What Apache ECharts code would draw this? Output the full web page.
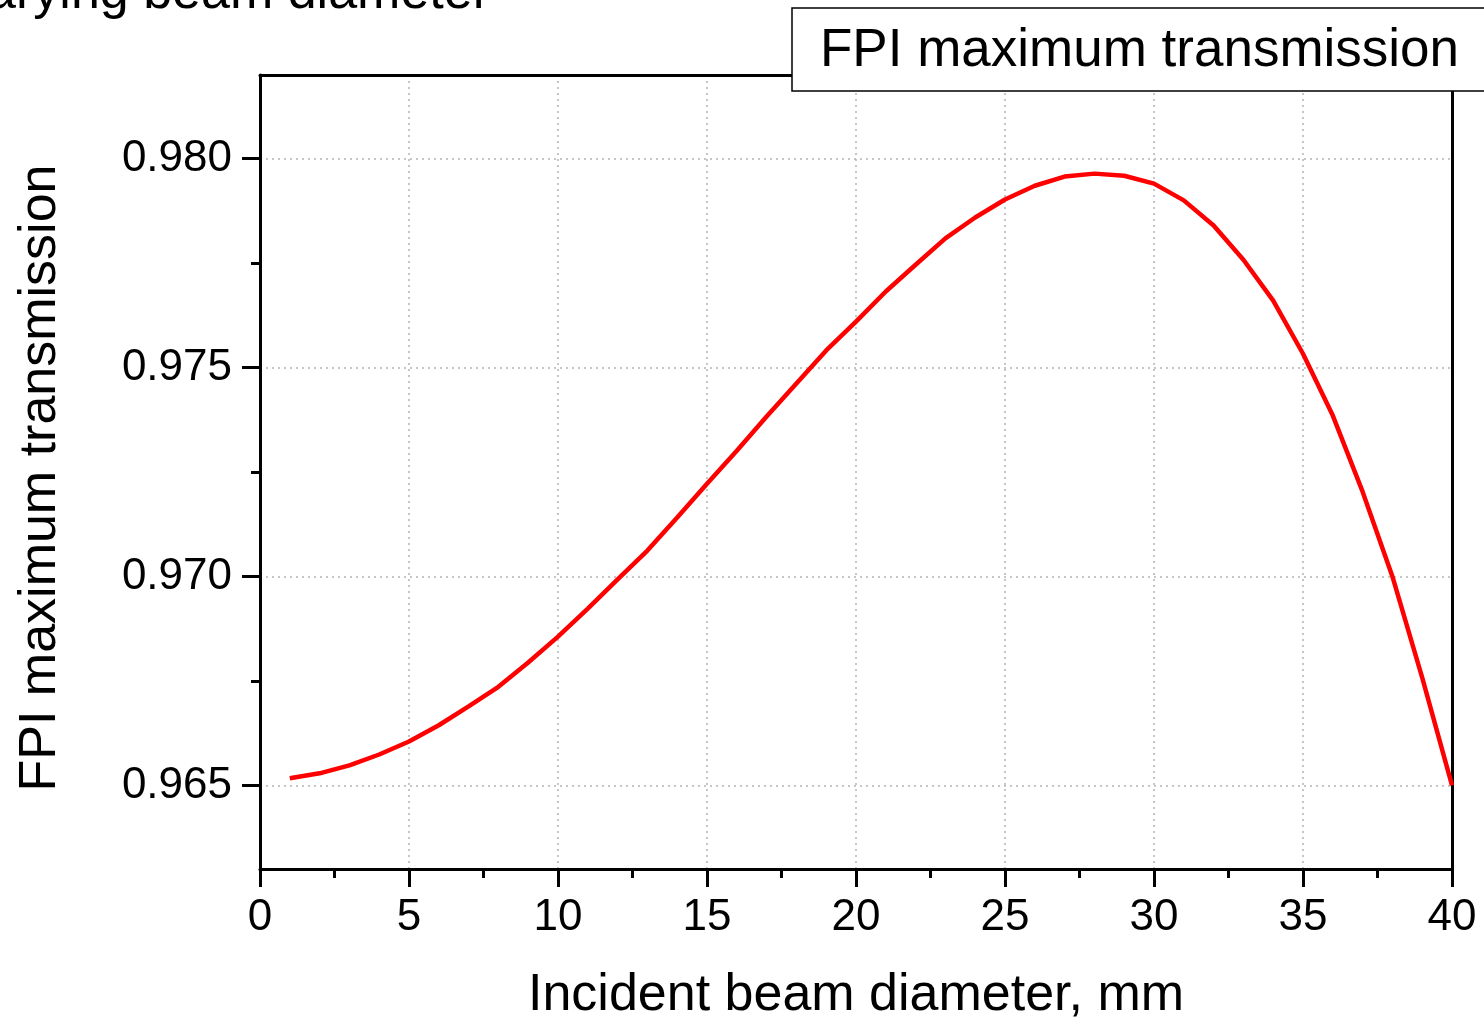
<!DOCTYPE html>
<html>
<head>
<meta charset="utf-8">
<script src="https://cdn.jsdelivr.net/npm/echarts@6/dist/echarts.min.js"></script>
<style>
html,body{margin:0;padding:0;background:#fff;}
#chart{width:1484px;height:1020px;}
</style>
</head>
<body>
<div id="chart"></div>
<script>
// ---- data ----
const diameters = [1,2,3,4,5,6,7,8,9,10,11,12,13,14,15,16,17,18,19,20,21,22,23,24,25,26,27,28,29,30,31,32,33,34,35,36,37,38,39,40];
const transmission = [
  0.96517,0.96529,0.96548,0.96574,0.96605,0.96644,0.96689,0.96736,0.96794,0.96856,
  0.96923,0.96993,0.97062,0.97141,0.97222,0.97301,0.97383,0.97462,0.97541,0.97610,
  0.97682,0.97746,0.97809,0.97859,0.97902,0.97935,0.97957,0.97964,0.97959,0.97940,
  0.97900,0.97840,0.97758,0.97660,0.97533,0.97385,0.97203,0.97000,0.96758,0.96500
];
const yMajorTicks = [0.965, 0.970, 0.975, 0.980];
const yMinorTicks = [0.9675, 0.9725, 0.9775];
const seriesName = 'FPI maximum transmission';
const xAxisName = 'Incident beam diameter, mm';
const yAxisName = 'FPI maximum transmission';
const titleText = 'FPI maximum transmission with varying beam diameter';

const FONT = 'Liberation Sans, Arial, sans-serif';
const black = '#000';
const gridLine = {show: true, lineStyle: {color: '#b4b4b4', width: 1.5, type: [2, 4]}};
const AXW = 3;

const chart = echarts.init(document.getElementById('chart'), null, {renderer: 'canvas'});
chart.setOption({
  animation: false,
  backgroundColor: '#fff',
  grid: {left: 260, right: 32, top: 75, bottom: 151, containLabel: false, outerBoundsMode: 'none'},
  graphic: [{
    type: 'text',
    z: 10,
    style: {
      x: 490, y: -6,
      text: titleText,
      font: '52px ' + FONT,
      fill: black,
      align: 'right',
      verticalAlign: 'middle'
    }
  }],
  legend: {
    show: true,
    left: 792, top: 8,
    padding: [17, 120, 13, 23],
    itemWidth: 0, itemHeight: 0,
    icon: 'rect',
    borderColor: black, borderWidth: 1.5,
    backgroundColor: '#fff',
    borderRadius: 0,
    z: 20,
    textStyle: {fontSize: 53, fontFamily: FONT, color: black},
    data: [seriesName]
  },
  xAxis: [{
    type: 'value', position: 'bottom',
    min: 0, max: 40, interval: 5,
    axisLine: {show: true, onZero: false, lineStyle: {color: black, width: AXW}},
    axisTick: {show: true, inside: false, length: 18, lineStyle: {color: black, width: AXW}},
    minorTick: {show: true, splitNumber: 2, length: 9, lineStyle: {color: black, width: AXW}},
    axisLabel: {fontSize: 44, fontFamily: FONT, color: black, margin: 27},
    splitLine: gridLine,
    name: xAxisName, nameLocation: 'middle', nameGap: 101,
    nameTextStyle: {fontSize: 52, fontFamily: FONT, color: black}
  }, {
    type: 'value', position: 'top',
    min: 0, max: 40, interval: 5,
    axisLine: {show: true, onZero: false, lineStyle: {color: black, width: AXW}},
    axisTick: {show: false}, axisLabel: {show: false}, splitLine: {show: false}
  }],
  yAxis: [{
    type: 'value', position: 'left',
    min: 0.963, max: 0.982, splitNumber: 4,
    axisLine: {show: true, onZero: false, lineStyle: {color: black, width: AXW}},
    axisTick: {show: true, inside: false, length: 18, customValues: yMajorTicks, lineStyle: {color: black, width: AXW}},
    axisLabel: {fontSize: 44, fontFamily: FONT, color: black, margin: 28, customValues: yMajorTicks,
      formatter: v => Number(v).toFixed(3)},
    splitLine: gridLine,
    name: yAxisName, nameLocation: 'middle', nameGap: 193,
    nameTextStyle: {fontSize: 52, fontFamily: FONT, color: black, padding: [0, 12, 0, 0]}
  }, {
    type: 'value', position: 'right',
    min: 0.963, max: 0.982,
    axisLine: {show: true, onZero: false, lineStyle: {color: black, width: AXW}},
    axisTick: {show: false}, axisLabel: {show: false}, splitLine: {show: false}
  }, {
    type: 'value', position: 'left', offset: 0,
    min: 0.963, max: 0.982,
    axisLine: {show: false},
    axisTick: {show: true, inside: false, length: 9, customValues: yMinorTicks, lineStyle: {color: black, width: AXW}},
    axisLabel: {show: false}, splitLine: {show: false}
  }],
  series: [{
    name: seriesName,
    type: 'line',
    xAxisIndex: 0, yAxisIndex: 0,
    data: diameters.map((d, i) => [d, transmission[i]]),
    showSymbol: false, symbol: 'none',
    lineStyle: {color: '#ff0000', width: 4.5},
    itemStyle: {color: '#ff0000'},
    clip: true
  }]
});
</script>
</body>
</html>
